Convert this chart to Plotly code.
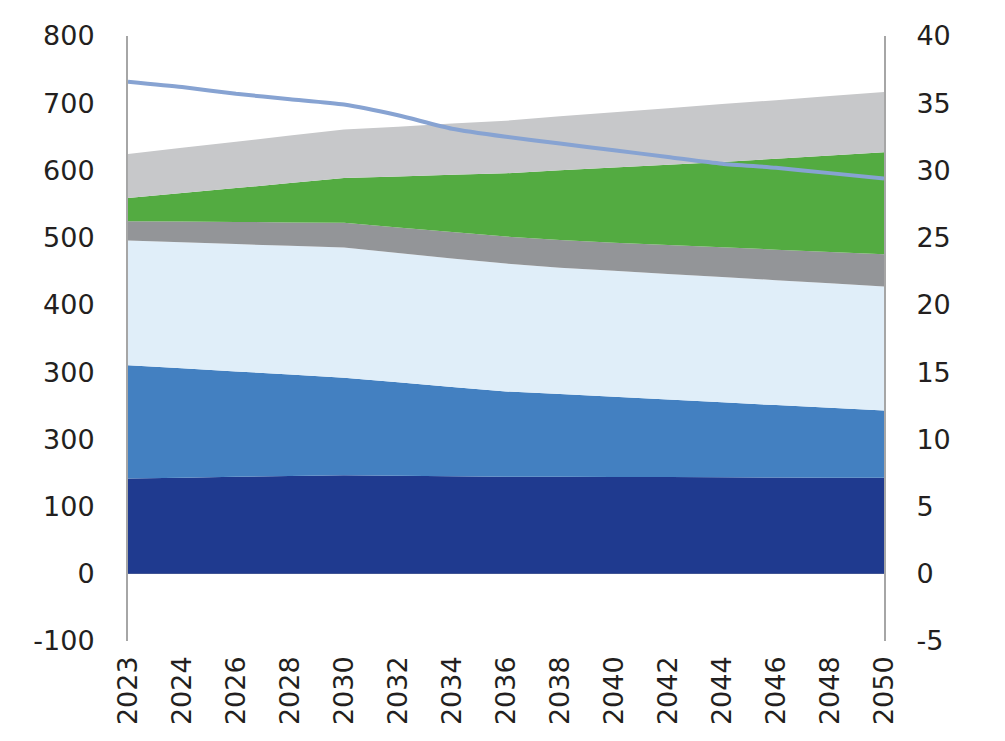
import plotly.graph_objects as go

years = ["2023", "2024", "2026", "2028", "2030", "2032", "2034", "2036",
         "2038", "2040", "2042", "2044", "2046", "2048", "2050"]

navy = [141.9, 143.0, 144.2, 145.6, 146.7, 145.9, 145.1, 144.4, 144.4, 144.1, 143.8, 143.6, 143.3, 143.0, 142.8]
mid_blue = [168.4, 162.6, 156.8, 150.7, 144.9, 138.9, 132.9, 126.8, 122.9, 119.1, 115.4, 111.5, 107.6, 103.9, 100.0]
light_blue = [185.6, 187.7, 189.5, 191.5, 193.6, 192.4, 191.0, 190.2, 188.0, 187.5, 186.9, 186.3, 185.9, 185.2, 184.7]
dark_gray = [28.7, 30.7, 32.9, 34.9, 36.9, 38.0, 39.4, 40.3, 41.4, 41.8, 43.0, 44.2, 45.4, 46.7, 47.7]
green = [34.4, 42.4, 50.4, 58.5, 66.5, 75.8, 85.1, 94.1, 103.7, 111.9, 119.3, 127.1, 135.2, 143.5, 151.8]
light_gray = [65.5, 67.3, 69.0, 70.6, 72.4, 74.0, 76.5, 78.2, 80.1, 82.2, 84.2, 86.0, 87.2, 88.4, 89.7]
line_right = [36.6, 36.2, 35.7, 35.3, 34.9, 34.1, 33.1, 32.5, 32.0, 31.5, 31.0, 30.5, 30.2, 29.8, 29.4]

left_tickvals = [-100, 0, 100, 200, 300, 400, 500, 600, 700, 800]
left_ticktext = ["-100", "0", "100", "300", "300", "400", "500", "600", "700", "800"]
right_tickvals = [-5, 0, 5, 10, 15, 20, 25, 30, 35, 40]
right_ticktext = ["-5", "0", "5", "10", "15", "20", "25", "30", "35", "40"]

series = [
    (navy, "#1F3A8F"),
    (mid_blue, "#4380C1"),
    (light_blue, "#E0EEF9"),
    (dark_gray, "#939598"),
    (green, "#53AB41"),
    (light_gray, "#C7C8CA"),
]

fig = go.Figure()
for vals, col in series:
    fig.add_trace(go.Scatter(
        x=years, y=vals, stackgroup="one", mode="none",
        fillcolor=col, line=dict(width=0), showlegend=False,
    ))

fig.add_trace(go.Scatter(
    x=years, y=line_right, yaxis="y2", mode="lines",
    line=dict(color="#87A3D2", width=4, shape="spline", smoothing=0.6),
    showlegend=False,
))

font_family = "DejaVu Sans, sans-serif"
font_color = "#231F20"
fsize = 27

fig.update_layout(
    width=1005, height=741,
    margin=dict(l=120, r=129, t=24, b=108),
    paper_bgcolor="white", plot_bgcolor="white",
    font=dict(family=font_family, size=fsize, color=font_color),
    xaxis=dict(
        type="category", range=[0, 14], tickangle=-90,
        showgrid=False, showline=False, ticks="",
        tickfont=dict(size=fsize), ticklabelstandoff=9,
    ),
    yaxis=dict(
        range=[-100, 800], tickvals=left_tickvals, ticktext=left_ticktext,
        showgrid=False, showline=True, linecolor="#A6A6A6", linewidth=2,
        zeroline=True, zerolinecolor="#A6A6A6", zerolinewidth=1,
        ticks="", ticklabelstandoff=26, tickfont=dict(size=fsize),
    ),
    yaxis2=dict(
        range=[-5, 40], tickvals=right_tickvals, ticktext=right_ticktext,
        overlaying="y", side="right",
        showgrid=False, showline=True, linecolor="#A6A6A6", linewidth=2,
        zeroline=False, ticks="", ticklabelstandoff=25, tickfont=dict(size=fsize),
    ),
)

fig.write_html("out.html")
